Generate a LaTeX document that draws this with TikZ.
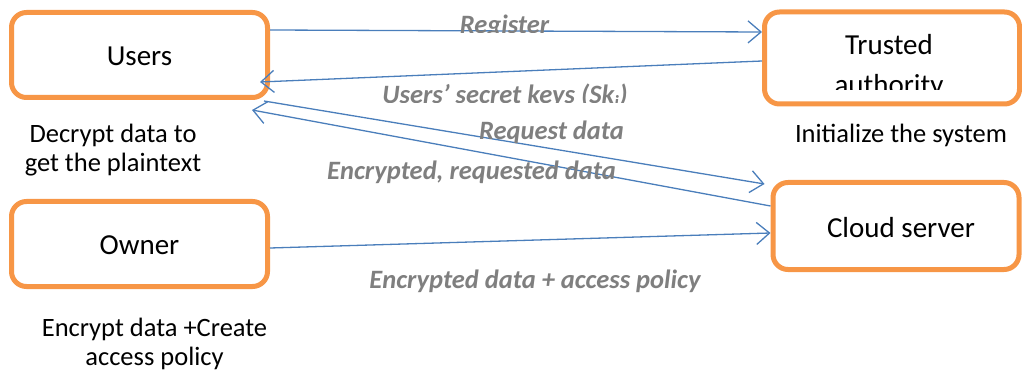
\documentclass[tikz,border=0pt]{standalone}
\usepackage{fontspec}
\setmainfont{Carlito}
\usetikzlibrary{arrows.meta,calc}
\definecolor{boxorange}{HTML}{F79646}
\definecolor{arrowblue}{HTML}{4A7EBB}
\definecolor{labelgray}{HTML}{7F7F7F}
\begin{document}
\begin{tikzpicture}[x=1pt,y=-1pt,
  box/.style={draw=boxorange, line width=5pt, rounded corners=15pt, fill=white, inner sep=0pt},
  boxtext/.style={font=\fontsize{29}{34}\selectfont, inner sep=0pt},
  note/.style={font=\fontsize{26.5}{29}\selectfont, align=center, inner sep=0pt},
  flow/.style={draw=arrowblue, line width=1.3pt, -{Straight Barb[length=13pt,width=22pt,line width=1.3pt]}},
  flowlabel/.style={text=labelgray, font=\fontsize{26.5}{30}\selectfont\bfseries\itshape, inner sep=0pt, anchor=base}]
\useasboundingbox (0,0) rectangle (1022,374);

% boxes
\node[box, minimum width=256pt, minimum height=85pt] (users) at (139.5,55) {};
\node[boxtext] (userstext) at (139.5,56) {Users};
\node[box, minimum width=255pt, minimum height=92pt] (trusted) at (892,58) {};
\begin{scope}
  \clip (766,14) rectangle (1018,90);
  \node[boxtext, anchor=base] (trustedtext1) at (889,55) {Trusted};
  \node[boxtext, anchor=base] (trustedtext2) at (889,95) {authority};
\end{scope}
\node[box, minimum width=246pt, minimum height=87pt] (cloud) at (896,226) {};
\node[boxtext] (cloudtext) at (901,228) {Cloud server};
\node[box, minimum width=256pt, minimum height=85pt] (owner) at (139.5,244) {};
\node[boxtext] (ownertext) at (139.5,245) {Owner};

% notes
\node[note] (usersnote) at (113,150) {Decrypt data to\\get the plaintext};
\node[note, anchor=base] (trustednote) at (901,143) {Initialize the system};
\node[note] (ownernote) at (154.5,344) {Encrypt data +Create\\access policy};

% connectors
\draw[flow] (users.east |- 0,30) -- (trusted.west |- 0,32);
\draw[flow] (trusted.west |- 0,61) -- ($(users.east)+(-10,27)$);
\draw[flow] ($(users.south east)+(-6,1)$) -- ($(cloud.north west)+(-6,4)$);
\draw[flow] (cloud.west |- 0,206) -- ($(users.south east)+(-18,10)$);
\draw[flow] (owner.east |- 0,248) -- (cloud.west |- 0,233);

% connector labels
\begin{scope}
  \clip (400,0) rectangle (620,32.5);
  \node[flowlabel] (reglabel) at (504.5,34) {Register};
\end{scope}
\begin{scope}
  \clip (370,80) rectangle (640,103);
  \node[flowlabel] (keylabel) at (505,104) {Users’ secret keys (Sk\textsubscript{\itshape i})};
\end{scope}
\node[flowlabel] (reqlabel) at (551.5,140) {Request data};
\node[flowlabel] (enclabel) at (471.5,180) {Encrypted, requested data};
\node[flowlabel] (ownlabel) at (535,288) {Encrypted data + access policy};
\end{tikzpicture}
\end{document}
